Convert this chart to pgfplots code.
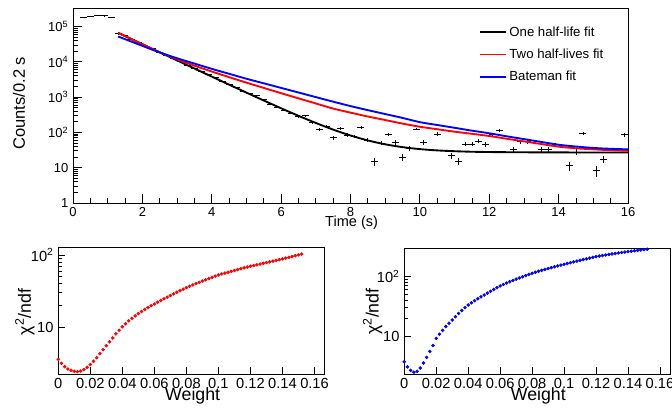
\documentclass[border=0pt]{standalone}
\usepackage{fontspec}
\setmainfont{Liberation Sans}
\usepackage{pgfplots}
\usepackage{pgfplotstable}
\pgfplotsset{compat=1.18}

% decay data: time, counts, x error, y error
\pgfplotstableread{
t N ex ey
0.3 180000 0.1 424
0.5 195000 0.1 442
0.7 205000 0.1 453
0.9 200000 0.1 447
1.1 185000 0.1 430
1.3 63000 0.1 251
1.5 54500 0.1 233
1.7 44000 0.1 210
1.9 35500 0.1 188
2.1 28000 0.1 167
2.3 23500 0.1 153
2.5 18800 0.1 137
2.7 15300 0.1 124
2.9 12500 0.1 112
3.1 10100 0.1 100
3.3 8100 0.1 90
3.5 6700 0.1 82
3.7 5300 0.1 73
3.9 4300 0.1 66
4.1 3550 0.1 60
4.3 2800 0.1 53
4.5 2300 0.1 48
4.7 1900 0.1 44
4.9 1480 0.1 38
5.1 1280 0.1 36
5.3 1100 0.1 33
5.5 880 0.1 30
5.7 640 0.1 25
5.9 520 0.1 23
6.1 430 0.1 21
6.3 347 0.1 19
6.5 280 0.1 17
6.7 300 0.1 17
6.9 190 0.1 14
7.1 120 0.1 11
7.3 145 0.1 12
7.5 70 0.1 8.4
7.7 131 0.1 11.4
7.9 84 0.1 9.2
8.1 76 0.1 8.7
8.3 139 0.1 11.8
8.5 60 0.1 7.7
8.7 15 0.1 3.9
8.9 50 0.1 7.1
9.1 88 0.1 9.4
9.3 52 0.1 7.2
9.5 20 0.1 4.5
9.7 35 0.1 5.9
9.9 125 0.1 11.2
10.1 52 0.1 7.2
10.5 90 0.1 9.5
10.9 22 0.1 4.7
11.1 15.5 0.1 3.9
11.3 47 0.1 6.9
11.5 47 0.1 6.9
11.7 57 0.1 7.5
11.9 46 0.1 6.8
12.1 88 0.1 9.4
12.3 112 0.1 10.6
12.7 34 0.1 5.8
12.9 55 0.1 7.4
13.1 55 0.1 7.4
13.5 33 0.1 5.7
13.7 32 0.1 5.7
13.9 45 0.1 6.7
14.3 11.3 0.1 3.4
14.5 28 0.1 5.3
14.7 96 0.1 9.8
15.1 8.5 0.1 2.9
15.3 17.5 0.1 4.2
15.9 85 0.1 9.2
}\decay

% chi2/ndf vs weight, two half-lives
\pgfplotstableread{
w c
0.000 3.606
0.002 3.177
0.004 2.858
0.006 2.649
0.008 2.541
0.010 2.466
0.012 2.438
0.014 2.483
0.016 2.600
0.018 2.799
0.020 3.055
0.022 3.388
0.024 3.802
0.026 4.315
0.028 4.898
0.030 5.559
0.032 6.310
0.034 7.129
0.036 8.128
0.038 9.120
0.040 10.19
0.042 11.22
0.044 12.30
0.046 13.34
0.048 14.39
0.050 15.49
0.052 16.56
0.054 17.66
0.056 18.79
0.058 19.91
0.060 21.04
0.062 22.23
0.064 23.50
0.066 24.77
0.068 26.12
0.070 27.54
0.072 29.04
0.074 30.55
0.076 32.14
0.078 33.73
0.080 35.40
0.082 36.98
0.084 38.64
0.086 40.27
0.088 41.98
0.090 43.75
0.092 45.50
0.094 47.32
0.096 49.20
0.098 51.17
0.100 53.09
0.102 54.70
0.104 56.36
0.106 57.94
0.108 59.57
0.110 61.24
0.112 62.95
0.114 64.71
0.116 66.53
0.118 68.23
0.120 69.98
0.122 71.61
0.124 73.28
0.126 75.16
0.128 76.91
0.130 78.70
0.132 80.54
0.134 82.41
0.136 84.53
0.138 86.50
0.140 88.51
0.142 90.78
0.144 93.11
0.146 95.50
0.148 98.17
0.150 100.7
0.152 103.3
}\chired

% chi2/ndf vs weight, Bateman
\pgfplotstableread{
w c
0.000 3.690
0.002 3.020
0.004 2.630
0.006 2.455
0.008 2.541
0.010 2.884
0.012 3.508
0.014 4.365
0.016 5.495
0.018 6.918
0.020 9.120
0.022 10.72
0.024 12.45
0.026 14.45
0.028 16.41
0.030 18.62
0.032 21.13
0.034 23.99
0.036 26.92
0.038 30.06
0.040 33.34
0.042 36.31
0.044 39.36
0.046 42.46
0.048 45.71
0.050 48.98
0.052 52.72
0.054 56.62
0.056 60.95
0.058 65.31
0.060 69.66
0.062 73.79
0.064 77.98
0.066 82.22
0.068 86.50
0.070 90.78
0.072 95.06
0.074 99.54
0.076 104.2
0.078 109.1
0.080 114.0
0.082 118.6
0.084 123.0
0.086 127.6
0.088 132.4
0.090 137.1
0.092 141.9
0.094 146.9
0.096 151.7
0.098 156.7
0.100 161.8
0.102 167.1
0.104 172.2
0.106 177.4
0.108 182.8
0.110 188.4
0.112 194.1
0.114 199.5
0.116 205.6
0.118 211.8
0.120 217.8
0.122 222.3
0.124 227.0
0.126 231.7
0.128 236.6
0.130 241.5
0.132 246.0
0.134 250.6
0.136 255.3
0.138 260.0
0.140 264.2
0.142 268.5
0.144 272.9
0.146 277.3
0.148 281.8
0.150 285.8
0.152 289.7
}\chiblue

\begin{document}
\begin{tikzpicture}

% top panel: decay curve
\begin{axis}[
    scale only axis,
    at={(54.75pt,153.75pt)}, anchor=south west,
    width=416.25pt, height=146.25pt,
    ymode=log,
    axis line style={line width=0.7pt},
    tick style={black, line width=0.6pt},
    xtick pos=bottom, ytick pos=left,
    tick align=inside,
    major tick length=7pt, minor tick length=4pt,
    xmin=0, xmax=16,
    ymin=1, ymax=3.34e5,
    xtick={0,2,4,6,8,10,12,14,16},
    xticklabels={0,2,4,6,8,10,12,14,16},
    minor x tick num=3,
    ytick={1,10,100,1000,10000,100000},
    yticklabels={1,10,10\textsuperscript{2},10\textsuperscript{3},10\textsuperscript{4},10\textsuperscript{5}},
    tick label style={font=\fontsize{9.75}{11}\selectfont},
    xlabel={Time (s)},
    ylabel={Counts/0.2 s},
    every axis x label/.style={at={(axis description cs:0.502,-0.118)}, anchor=base, font=\fontsize{10.9}{12}\selectfont},
    every axis y label/.style={at={(axis description cs:-0.0865,0.512)}, rotate=90, anchor=base, font=\fontsize{12.4}{14}\selectfont},
    legend cell align=left,
    legend style={at={(0.732,0.92)}, anchor=north west, draw=none, fill=none,
      font=\fontsize{9.9}{11}\selectfont, row sep=4pt, inner sep=0pt},
    legend image code/.code={\draw[#1] (0pt,0pt) -- (19pt,0pt);},
]
\addplot[forget plot, draw=none, mark=none,
  error bars/.cd, x dir=both, x explicit, y dir=both, y explicit,
  error mark=none, error bar style={black, line width=0.6pt}]
  table[x=t, y=N, x error=ex, y error=ey] {\decay};

\addplot[black, line width=1.4pt, smooth] coordinates {
  (1.3,66100) (1.5,53500) (2.0,31500) (2.5,18560) (3.0,10940) (3.5,6450)
  (4.0,3810) (4.5,2255) (5.0,1339) (5.5,800) (6.0,482) (6.5,295) (7.0,185)
  (7.5,120) (8.0,81.7) (8.5,59.2) (9.0,46.0) (9.5,38.2) (10.0,33.6)
  (10.5,30.9) (11.0,29.3) (11.5,28.3) (12.0,27.8) (12.5,27.5) (13.0,27.3)
  (14.0,27.1) (15.0,27.0) (16.0,27.0)
};
\addlegendentry{One half-life fit}

\addplot[red, line width=1.4pt, smooth] coordinates {
  (1.3,66070) (1.5,53330) (2.0,31620) (2.5,18620) (3.0,11750) (3.5,7762)
  (4.0,5309) (4.5,3673) (5.0,2570) (5.5,1820) (6.0,1288) (6.5,922.6)
  (7.0,660.7) (7.5,473.2) (8.0,363.1) (8.5,281.8) (9.0,223.9) (9.5,177.8)
  (10.0,144.5) (10.5,123.0) (11.0,104.7) (11.5,91.2) (12.0,79.1) (12.5,66.1)
  (13.0,55.6) (13.5,46.8) (14.0,39.4) (14.5,35.5) (15.0,33.1) (15.5,31.3)
  (16.0,30.2)
};
\addlegendentry{Two half-lives fit}

\addplot[blue, line width=1.4pt, smooth] coordinates {
  (1.3,52000) (1.5,43750) (2.0,28310) (2.5,18370) (3.0,12590) (3.5,8913)
  (4.0,6310) (4.5,4571) (5.0,3311) (5.5,2455) (6.0,1820) (6.5,1349)
  (7.0,1000) (7.5,741) (8.0,556) (8.5,427) (9.0,331) (9.5,257) (10.0,195)
  (10.5,162) (11.0,135) (11.5,112) (12.0,94.4) (12.5,77.6) (13.0,64.6)
  (13.5,53.7) (14.0,44.7) (14.5,39.8) (15.0,36.3) (15.5,34.3) (16.0,33.1)
};
\addlegendentry{Bateman fit}
\end{axis}

% bottom left: two half-lives
\begin{axis}[
    scale only axis,
    at={(43.7pt,25.5pt)}, anchor=south west,
    width=200pt, height=95pt,
    ymode=log,
    axis line style={line width=0.7pt},
    tick style={black, line width=0.6pt},
    xtick pos=bottom, ytick pos=left,
    tick align=inside,
    major tick length=5pt, minor tick length=3pt,
    xmin=0, xmax=0.1665,
    ymin=2.26, ymax=128,
    xtick={0,0.02,0.04,0.06,0.08,0.1,0.12,0.14,0.16},
    xticklabels={0,0.02,0.04,0.06,0.08,0.1,0.12,0.14,0.16},
    ytick={10,100},
    yticklabels={10,10\textsuperscript{2}},
    tick label style={font=\fontsize{11}{12}\selectfont},
    xlabel={Weight},
    ylabel={χ\textsuperscript{2}/ndf},
    every axis x label/.style={at={(axis description cs:0.504,-0.211)}, anchor=base, font=\fontsize{13.3}{15}\selectfont},
    every axis y label/.style={at={(axis description cs:-0.125,0.49)}, rotate=90, anchor=center, font=\fontsize{13.3}{15}\selectfont},
]
\addplot[only marks, mark=*, mark size=1.1pt, red] table[x=w, y=c] {\chired};
\end{axis}

% bottom right: Bateman
\begin{axis}[
    scale only axis,
    at={(303.2pt,25.5pt)}, anchor=south west,
    width=199.8pt, height=94.3pt,
    ymode=log,
    axis line style={line width=0.7pt},
    tick style={black, line width=0.6pt},
    xtick pos=bottom, ytick pos=left,
    tick align=inside,
    major tick length=5pt, minor tick length=3pt,
    xmin=0, xmax=0.1667,
    ymin=2.29, ymax=301,
    xtick={0,0.02,0.04,0.06,0.08,0.1,0.12,0.14,0.16},
    xticklabels={0,0.02,0.04,0.06,0.08,0.1,0.12,0.14,0.16},
    ytick={10,100},
    yticklabels={10,10\textsuperscript{2}},
    tick label style={font=\fontsize{11}{12}\selectfont},
    xlabel={Weight},
    ylabel={χ\textsuperscript{2}/ndf},
    every axis x label/.style={at={(axis description cs:0.503,-0.2124)}, anchor=base, font=\fontsize{13.3}{15}\selectfont},
    every axis y label/.style={at={(axis description cs:-0.119,0.496)}, rotate=90, anchor=center, font=\fontsize{13.3}{15}\selectfont},
]
\addplot[only marks, mark=*, mark size=1.1pt, blue] table[x=w, y=c] {\chiblue};
\end{axis}

\pgfresetboundingbox
\path[use as bounding box] (0,0) rectangle (504pt,306pt);
\end{tikzpicture}
\end{document}
